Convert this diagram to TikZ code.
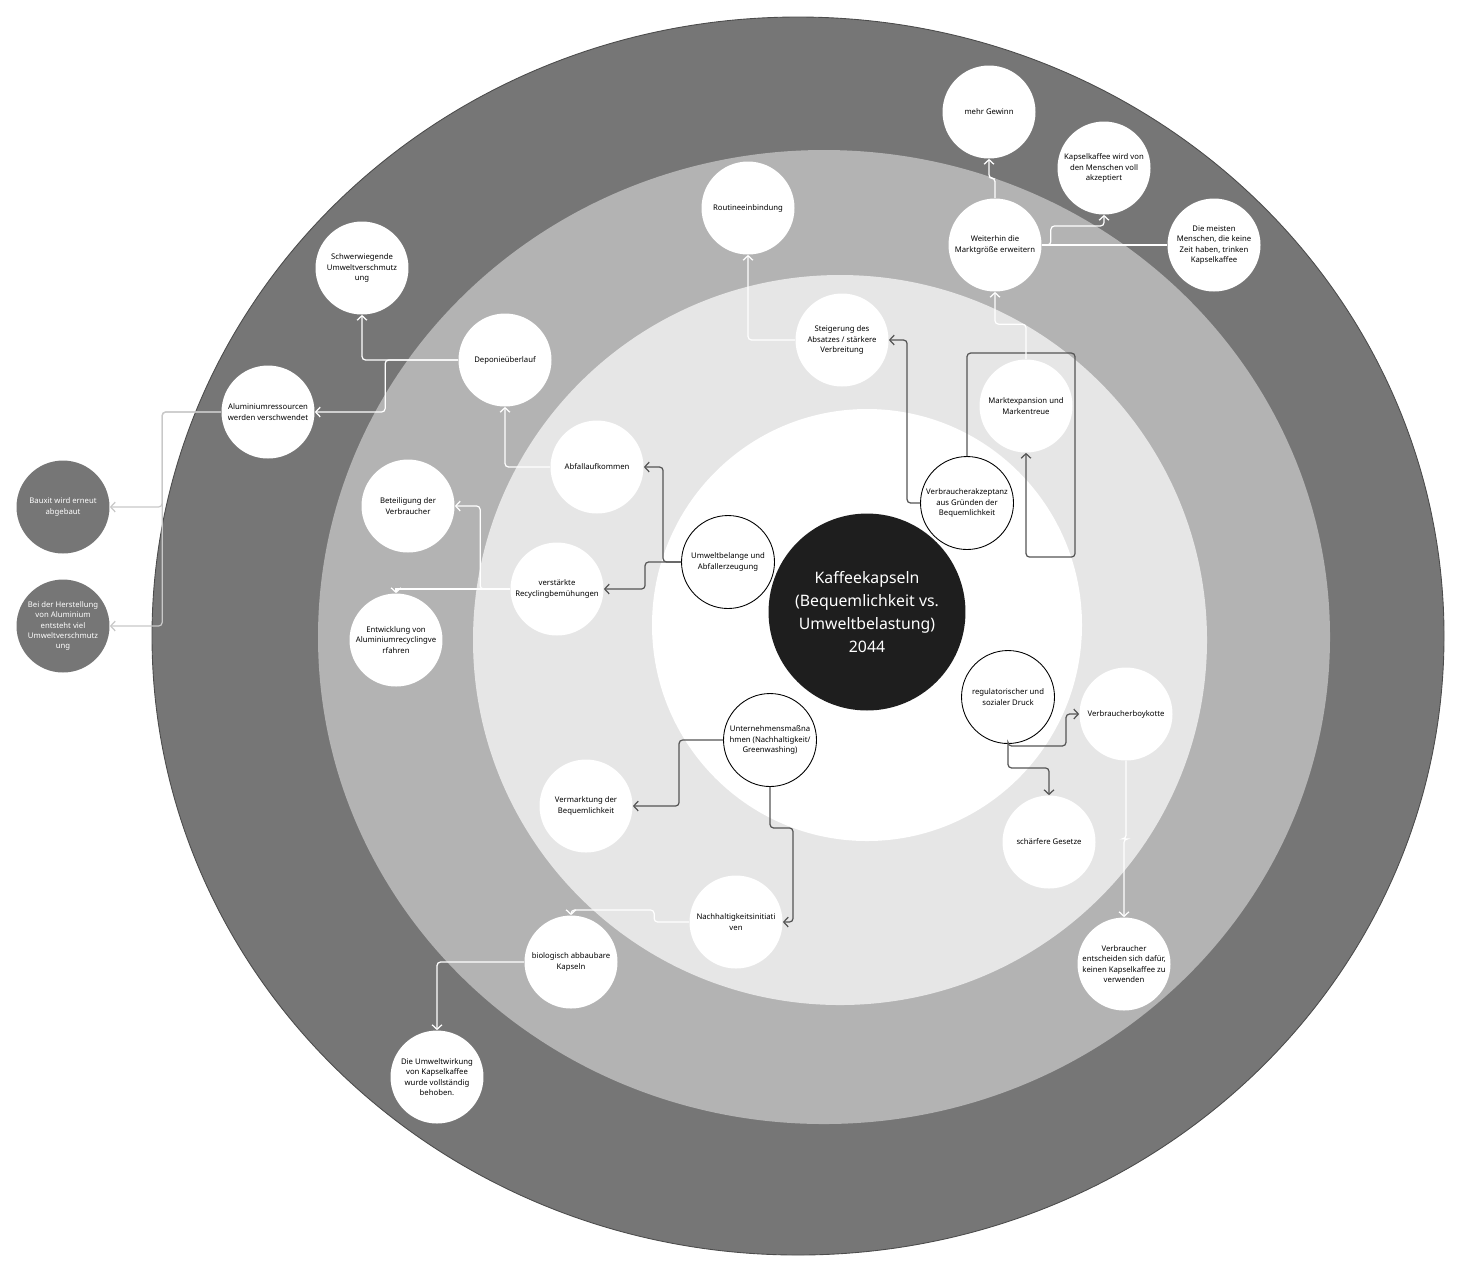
\documentclass[tikz,border=0pt]{standalone}
\usepackage{fontspec}
\setmainfont{Noto Sans}
\usepackage{tikz}
\usetikzlibrary{arrows.meta}
\definecolor{RingDark}{HTML}{767676}
\definecolor{RingMid}{HTML}{B3B3B3}
\definecolor{RingLight}{HTML}{E6E6E6}
\definecolor{CoreBlack}{HTML}{1E1E1E}
\definecolor{LinkDark}{HTML}{555555}
\definecolor{LinkGray}{HTML}{C8C8C8}

\begin{document}
\begin{tikzpicture}[x=0.02cm, y=-0.02cm, >={Straight Barb[length=2.6pt,width=5.6pt]},
    bubble/.style={circle, fill=white, minimum size=1.86cm, inner sep=0pt, align=center,
      font=\fontsize{4.4}{5.8}\selectfont},
    ringbubble/.style={bubble, draw=black, line width=0.5pt},
    outbubble/.style={bubble, fill=RingDark, text=white},
    core/.style={circle, fill=CoreBlack, text=white, minimum size=3.94cm, inner sep=0pt,
      align=center, font=\fontsize{9}{13}\selectfont},
    link/.style={->, LinkDark, line width=0.7pt, rounded corners=2pt},
    linkwhite/.style={->, white, line width=0.7pt, rounded corners=2pt},
    linkgray/.style={->, LinkGray, line width=0.7pt, rounded corners=2pt}]
    \useasboundingbox (0,0) rectangle (1462,1276);
    \fill[RingDark, draw=black!70, line width=0.5pt] (798,636) ellipse (646 and 619);
    \fill[RingMid] (824,637) ellipse (506 and 487);
    \fill[RingLight] (840,640) ellipse (367 and 365);
    \fill[white] (867,625) ellipse (215 and 216);
    \node[core] (core) at (867,612) {Kaffeekapseln\\(Bequemlichkeit vs.\\Umweltbelastung)\\2044};
    \node[ringbubble] (umwelt) at (728,562) {Umweltbelange und\\Abfallerzeugung};
    \node[ringbubble] (akzeptanz) at (967,503) {Verbraucherakzeptanz\\aus Gründen der\\Bequemlichkeit};
    \node[ringbubble] (druck) at (1008,697) {regulatorischer und\\sozialer Druck};
    \node[ringbubble] (unternehmen) at (770,740) {Unternehmensmaßna\\hmen (Nachhaltigkeit/\\Greenwashing)};
    \node[bubble] (abfall) at (597,467) {Abfallaufkommen};
    \node[bubble] (recycling) at (557,589) {verstärkte\\Recyclingbemühungen};
    \node[bubble] (steigerung) at (842,340) {Steigerung des\\Absatzes / stärkere\\Verbreitung};
    \node[bubble] (expansion) at (1026,406) {Marktexpansion und\\Markentreue};
    \node[bubble] (boykott) at (1126,714) {Verbraucherboykotte};
    \node[bubble] (gesetze) at (1049,842) {schärfere Gesetze};
    \node[bubble] (vermarktung) at (586,806) {Vermarktung der\\Bequemlichkeit};
    \node[bubble] (initiativen) at (736,922) {Nachhaltigkeitsinitiati\\ven};
    \node[bubble] (beteiligung) at (408,506) {Beteiligung der\\Verbraucher};
    \node[bubble] (entwicklung) at (396,640) {Entwicklung von\\Aluminiumrecyclingve\\rfahren};
    \node[bubble] (deponie) at (505,360) {Deponieüberlauf};
    \node[bubble] (routine) at (748,208) {Routineeinbindung};
    \node[bubble] (markt) at (995,245) {Weiterhin die\\Marktgröße erweitern};
    \node[bubble] (kapseln) at (571,962) {biologisch abbaubare\\Kapseln};
    \node[bubble] (verzicht) at (1124,964) {Verbraucher\\entscheiden sich dafür,\\keinen Kapselkaffee zu\\verwenden};
    \node[bubble] (verschmutzung) at (362,268) {Schwerwiegende\\Umweltverschmutz\\ung};
    \node[bubble] (ressourcen) at (268,412) {Aluminiumressourcen\\werden verschwendet};
    \node[bubble] (gewinn) at (989,112) {mehr Gewinn};
    \node[bubble] (akzeptiert) at (1104,168) {Kapselkaffee wird von\\den Menschen voll\\akzeptiert};
    \node[bubble] (meisten) at (1214,245) {Die meisten\\Menschen, die keine\\Zeit haben, trinken\\Kapselkaffee};
    \node[bubble] (behoben) at (437,1077) {Die Umweltwirkung\\von Kapselkaffee\\wurde vollständig\\behoben.};
    \node[outbubble] (bauxit) at (63,507) {Bauxit wird erneut\\abgebaut};
    \node[outbubble] (herstellung) at (63,626) {Bei der Herstellung\\von Aluminium\\entsteht viel\\Umweltverschmutz\\ung};
    \draw[link] (umwelt.west) -- ++(-18,0) |- (abfall.east);
    \draw[link] (umwelt.west) -- ++(-36,0) |- (recycling.east);
    \draw[link] (akzeptanz.west) -- ++(-13,0) |- (steigerung.east);
    \draw[link] (akzeptanz.north) -- ++(0,-103) -- ++(108,0) -- ++(0,204) -| (expansion.south);
    \draw[link] (druck.south) -- ++(0,2) -- ++(58,0) |- (boykott.west);
    \draw[link] (druck.south) -- ++(0,24) -| (gesetze.north);
    \draw[link] (unternehmen.west) -- ++(-44,0) |- (vermarktung.east);
    \draw[link] (unternehmen.south) -- ++(0,41) -- ++(23,0) |- (initiativen.east);
    \draw[linkwhite] (abfall.west) -| (deponie.south);
    \draw[linkwhite] (deponie.west) -| (verschmutzung.south);
    \draw[linkwhite] (deponie.west) -- ++(-73,0) |- (ressourcen.east);
    \draw[linkgray] (ressourcen.west) -- ++(-59,0) |- (bauxit.east);
    \draw[linkgray] (ressourcen.west) -- ++(-59,0) |- (herstellung.east);
    \draw[linkwhite] (recycling.west) -- ++(-30,0) |- (beteiligung.east);
    \draw[linkwhite, rounded corners=0pt] (recycling.west) -- (recycling.west -| entwicklung.north) -- (entwicklung.north);
    \draw[linkwhite] (steigerung.west) -| (routine.south);
    \draw[linkwhite] (expansion.north) -- ++(0,-35) -| (markt.south);
    \draw[linkwhite] (markt.north) -- ++(0,-20) -| (gewinn.south);
    \draw[linkwhite, -] (markt.east) -- (meisten.west);
    \draw[linkwhite] (markt.east) -- ++(9,0) -- ++(0,-19) -| (akzeptiert.south);
    \draw[linkwhite] (boykott.south) -- ++(0,78) -| (verzicht.north);
    \draw[linkwhite] (initiativen.west) -- ++(-35,0) -- ++(0,-12) -| (kapseln.north);
    \draw[linkwhite] (kapseln.west) -| (behoben.north);
\end{tikzpicture}
\end{document}
